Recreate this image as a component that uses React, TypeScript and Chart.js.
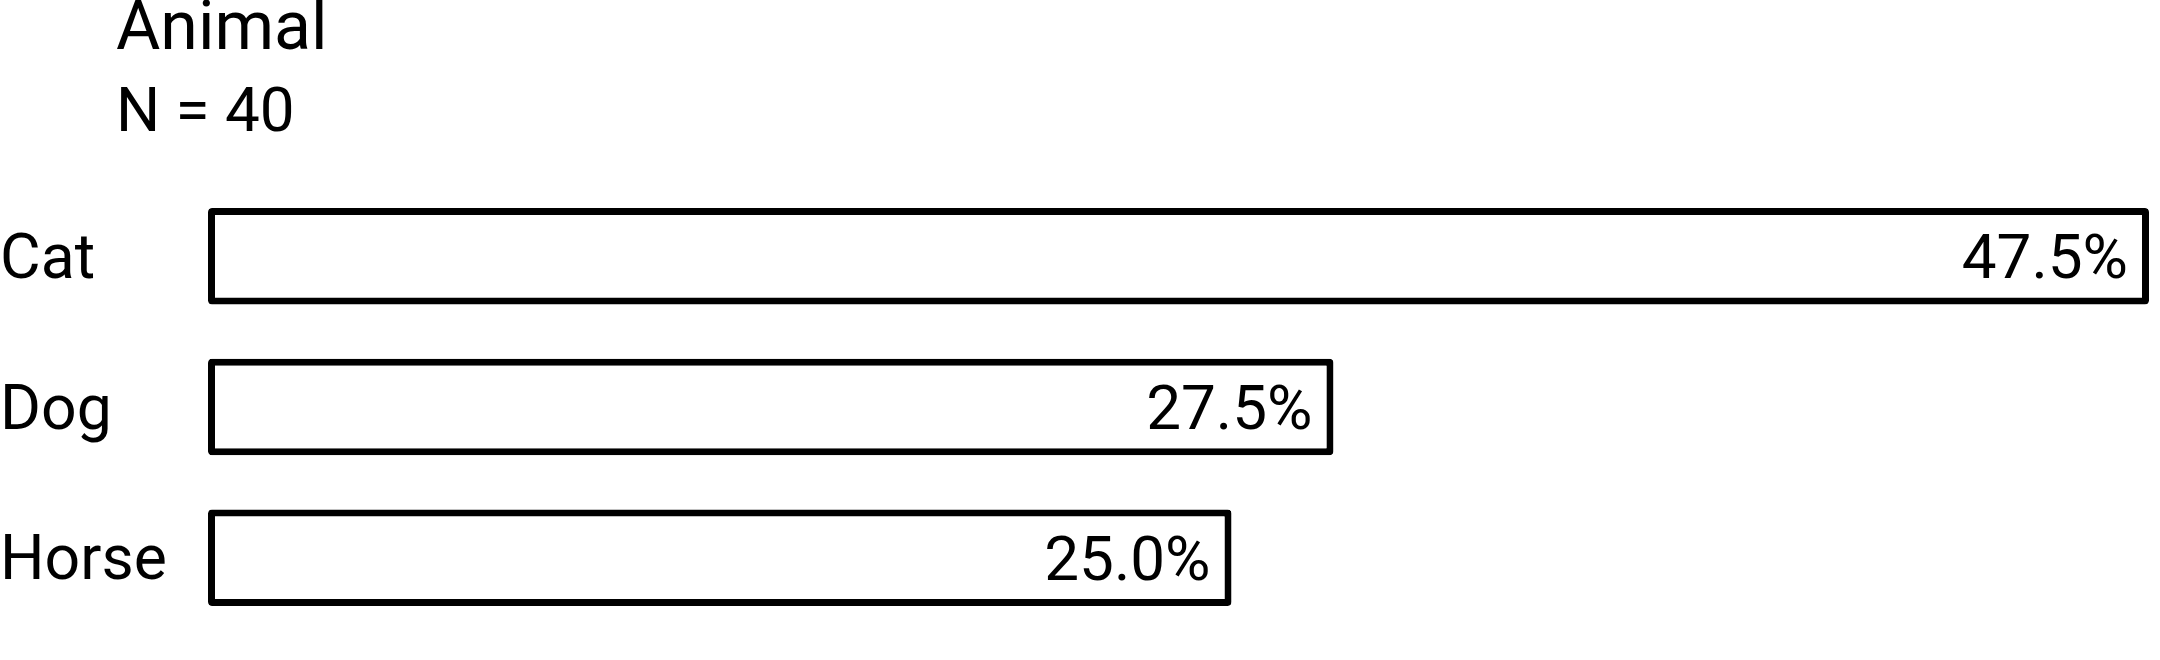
import React, { useEffect, useRef } from 'react';
import { Chart, registerables } from 'chart.js';

Chart.register(...registerables);

const titleText = 'Animal';
const sampleSize = 40;
const categories = ['Cat', 'Dog', 'Horse'];
const percentages = [47.5, 27.5, 25.0];

const FONT = 'Roboto, "Noto Sans", "DejaVu Sans", sans-serif';
const AXIS_MIN = -0.1;

export default function App() {
  const ref = useRef<HTMLCanvasElement>(null);

  useEffect(() => {
    document.body.style.margin = '0';
    const canvas = ref.current;
    if (!canvas) return;

    const headerPlugin = {
      id: 'headerText',
      afterDraw(chart: any) {
        const ctx = chart.ctx;
        ctx.save();
        ctx.fillStyle = '#000';
        ctx.textAlign = 'left';
        ctx.textBaseline = 'alphabetic';
        ctx.font = `68px ${FONT}`;
        ctx.fillText(titleText, 116, 49);
        ctx.font = `62px ${FONT}`;
        ctx.fillText(`N = ${sampleSize}`, 116, 131);
        ctx.restore();
      },
    };

    const valuePlugin = {
      id: 'valueLabels',
      afterDatasetsDraw(chart: any) {
        const ctx = chart.ctx;
        const meta = chart.getDatasetMeta(0);
        ctx.save();
        ctx.fillStyle = '#000';
        ctx.font = `62px ${FONT}`;
        ctx.textAlign = 'right';
        ctx.textBaseline = 'alphabetic';
        meta.data.forEach((bar: any, i: number) => {
          ctx.fillText(percentages[i].toFixed(1) + '%', bar.x - 21, bar.y + 22);
        });
        ctx.restore();
      },
    };

    const chart = new Chart(canvas, {
      type: 'bar',
      data: {
        labels: categories,
        datasets: [
          {
            data: percentages,
            base: AXIS_MIN,
            backgroundColor: '#ffffff',
            borderColor: '#000000',
            borderWidth: 7,
            borderSkipped: false,
            borderRadius: 4,
            categoryPercentage: 1,
            barPercentage: 0.64,
          },
        ],
      },
      options: {
        indexAxis: 'y',
        responsive: false,
        animation: false,
        layout: { padding: { top: 181, bottom: 27, left: 0, right: 11 } },
        plugins: {
          legend: { display: false },
          tooltip: { enabled: false },
          title: { display: false },
        },
        scales: {
          x: { display: false, min: AXIS_MIN, max: 47.5 },
          y: {
            type: 'category',
            grid: { display: false },
            border: { display: false },
            ticks: {
              color: '#000',
              font: { family: FONT, size: 62.5, lineHeight: 0.8 },
              crossAlign: 'far',
              padding: 0,
              labelOffset: 6,
            },
            afterFit: (scale: any) => {
              scale.width = 208;
            },
          },
        },
      },
      plugins: [headerPlugin, valuePlugin],
    });

    return () => chart.destroy();
  }, []);

  return (
    <div style={{ width: 2160, height: 660 }}>
      <canvas ref={ref} width={2160} height={660} style={{ display: 'block' }} />
    </div>
  );
}
